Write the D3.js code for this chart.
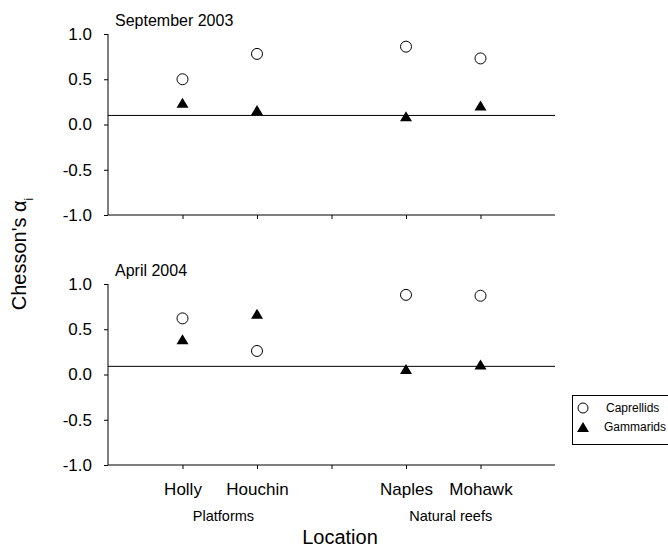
<!DOCTYPE html>
<html>
<head>
<meta charset="utf-8">
<script src="https://cdn.jsdelivr.net/npm/d3@7"></script>
<style>
  body { margin: 0; background: #fff; }
  svg text { font-family: "Liberation Sans", Arial, sans-serif; fill: #000; }
</style>
</head>
<body>
<div id="chart"></div>
<script>
const locations = ["Holly", "Houchin", "", "Naples", "Mohawk"];
const panelTitles = ["September 2003", "April 2004"];
const caprellids = [
    [0.50, 0.78, null, 0.86, 0.73],
    [0.62, 0.26, null, 0.88, 0.87]
];
const gammarids = [
    [0.24, 0.16, null, 0.09, 0.21],
    [0.39, 0.67, null, 0.06, 0.11]
];
const refValues = [0.1, 0.09];
const yTicks = [-1.0, -0.5, 0.0, 0.5, 1.0];
const groups = ["Platforms", "Natural reefs"];
const groupCenters = [1.55, 4.6];
const seriesNames = ["Caprellids", "Gammarids"];

const width = 668, height = 548;
const svg = d3.select("#chart").append("svg")
    .attr("width", width)
    .attr("height", height);

const x = d3.scaleLinear().domain([0, 6]).range([108, 555]);
const panelTops = [34, 284];
const panelH = 181;

const tri = "M0,-5L6,5L-6,5Z";

panelTops.forEach((top, p) => {
    const y = d3.scaleLinear().domain([-1, 1]).range([top + panelH, top]);
    const g = svg.append("g");

    g.append("g")
        .attr("transform", `translate(${x(0)},0)`)
        .call(d3.axisLeft(y).tickValues(yTicks).tickSize(4).tickPadding(12)
            .tickFormat(d => d3.format(".1f")(d).replace("−", "-")))
        .call(a => a.select(".domain").attr("d", `M0,${y(1)}V${y(-1)}`))
        .call(a => a.selectAll("text").style("font-size", "17px"));

    g.append("g")
        .attr("transform", `translate(0,${y(-1)})`)
        .call(d3.axisBottom(x).tickValues([1, 2, 3, 4, 5]).tickSize(4)
            .tickFormat((d, i) => p === 1 ? locations[i] : "").tickPadding(14))
        .call(a => a.select(".domain").attr("d", `M${x(0)},0H${x(6)}`))
        .call(a => a.selectAll("text").style("font-size", "17px"));

    g.append("line")
        .attr("x1", x(0)).attr("x2", x(6))
        .attr("y1", y(refValues[p])).attr("y2", y(refValues[p]))
        .attr("stroke", "#000").attr("stroke-width", 1);

    g.append("text")
        .attr("x", x(0) + 7)
        .attr("y", top - 8)
        .style("font-size", "16px")
        .text(panelTitles[p]);

    g.selectAll(".cap")
        .data(caprellids[p].map((v, i) => ({ v, i })).filter(d => d.v !== null))
        .enter().append("circle")
        .attr("cx", d => x(d.i + 1))
        .attr("cy", d => y(d.v))
        .attr("r", 5.5)
        .attr("fill", "#fff")
        .attr("stroke", "#000")
        .attr("stroke-width", 1);

    g.selectAll(".gam")
        .data(gammarids[p].map((v, i) => ({ v, i })).filter(d => d.v !== null))
        .enter().append("path")
        .attr("d", tri)
        .attr("transform", d => `translate(${x(d.i + 1)},${y(d.v)})`)
        .attr("fill", "#000");
});

groups.forEach((name, i) => {
    svg.append("text")
        .attr("x", x(groupCenters[i]))
        .attr("y", 521)
        .attr("text-anchor", "middle")
        .style("font-size", "14.5px")
        .text(name);
});

svg.append("text")
    .attr("x", 340)
    .attr("y", 544)
    .attr("text-anchor", "middle")
    .style("font-size", "20px")
    .text("Location");

const yt = svg.append("text")
    .attr("transform", "translate(26,254) rotate(-90)")
    .attr("text-anchor", "middle")
    .style("font-size", "20px");
yt.append("tspan").text("Chesson's ");
yt.append("tspan").text("α");
yt.append("tspan").text("i").attr("baseline-shift", "sub").style("font-size", "12px");

// legend
const lg = svg.append("g");
lg.append("rect")
    .attr("x", 572.5).attr("y", 395.5)
    .attr("width", 110).attr("height", 49)
    .attr("fill", "#fff").attr("stroke", "#000").attr("stroke-width", 1);
lg.append("circle")
    .attr("cx", 583).attr("cy", 408).attr("r", 5)
    .attr("fill", "#fff").attr("stroke", "#000");
lg.append("path")
    .attr("d", tri)
    .attr("transform", "translate(583,427)")
    .attr("fill", "#000");
lg.selectAll(".lt")
    .data(seriesNames)
    .enter().append("text")
    .attr("x", (d, i) => i === 0 ? 606 : 604)
    .attr("y", (d, i) => 412 + i * 19)
    .style("font-size", "12px")
    .text(d => d);
</script>
</body>
</html>
